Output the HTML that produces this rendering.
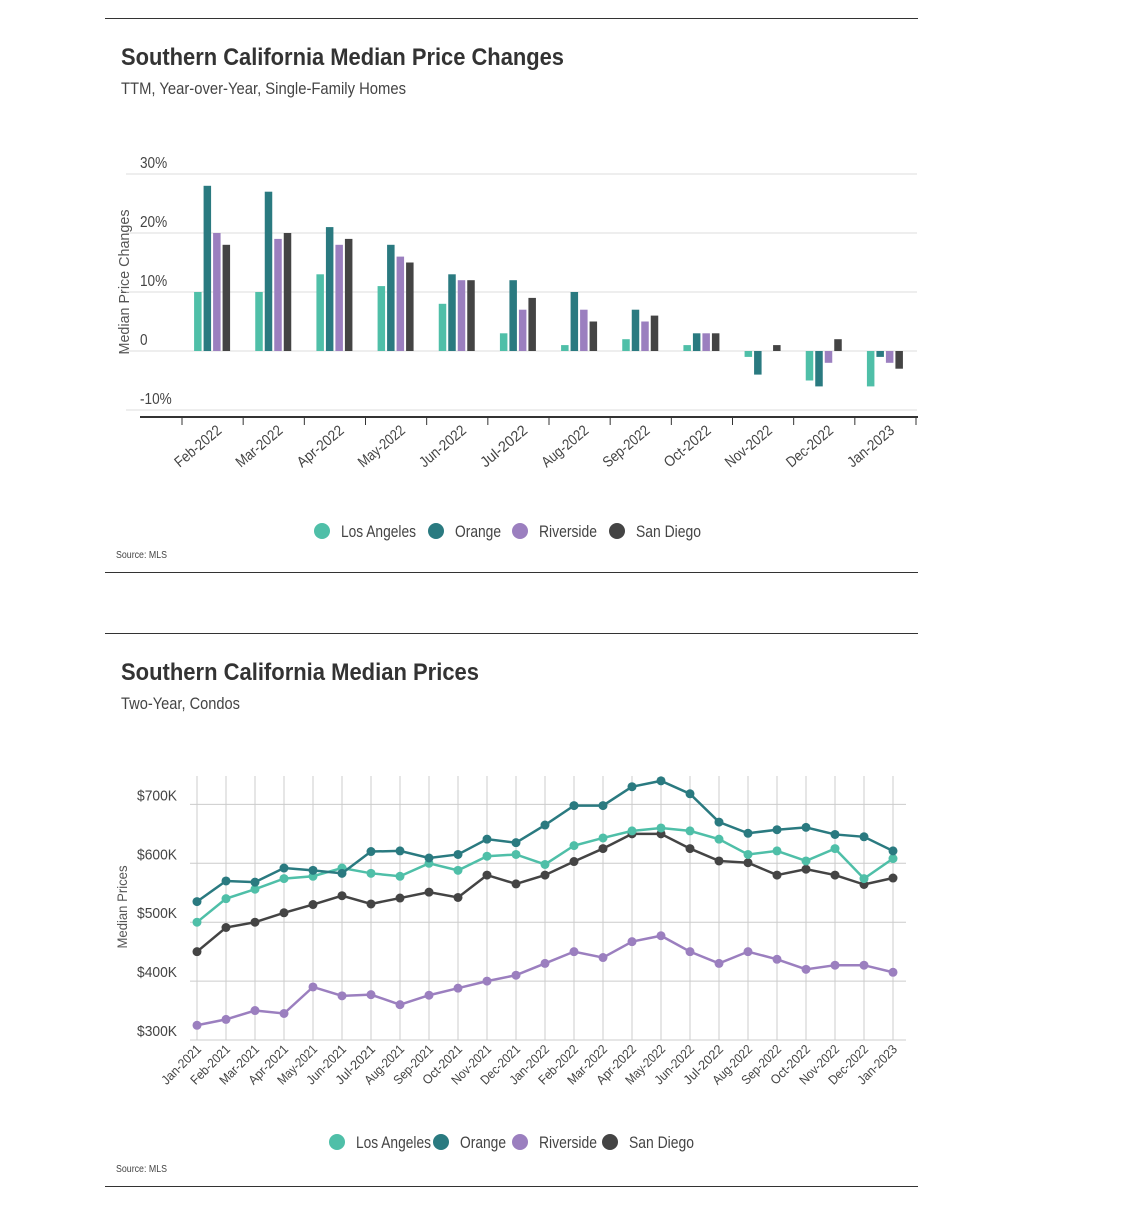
<!DOCTYPE html>
<html><head><meta charset="utf-8">
<style>
body{margin:0;background:#fff;width:1148px;height:1207px;overflow:hidden;font-family:"Liberation Sans",sans-serif;color:#333}
svg{position:absolute;left:0;top:0}
</style></head>
<body>
<svg width="1148" height="1207" id="svg" font-family="Liberation Sans, sans-serif">
<line x1="105" y1="18.5" x2="918" y2="18.5" stroke="#333"/>
<text x="121" y="65" font-size="24" font-weight="bold" fill="#333" textLength="443" lengthAdjust="spacingAndGlyphs">Southern California Median Price Changes</text>
<text x="121" y="94" font-size="17" fill="#444" textLength="285" lengthAdjust="spacingAndGlyphs">TTM, Year-over-Year, Single-Family Homes</text>
<text transform="translate(129,282) rotate(-90)" text-anchor="middle" font-size="15" fill="#555" textLength="145" lengthAdjust="spacingAndGlyphs">Median Price Changes</text>
<text x="116" y="558" font-size="10" fill="#444" textLength="51" lengthAdjust="spacingAndGlyphs">Source: MLS</text>
<line x1="105" y1="572.5" x2="918" y2="572.5" stroke="#333"/>
<line x1="105" y1="633.5" x2="918" y2="633.5" stroke="#333"/>
<text x="121" y="680" font-size="24" font-weight="bold" fill="#333" textLength="358" lengthAdjust="spacingAndGlyphs">Southern California Median Prices</text>
<text x="121" y="709" font-size="17" fill="#444" textLength="119" lengthAdjust="spacingAndGlyphs">Two-Year, Condos</text>
<text transform="translate(127,907) rotate(-90)" text-anchor="middle" font-size="14" fill="#555" textLength="83" lengthAdjust="spacingAndGlyphs">Median Prices</text>
<text x="116" y="1172" font-size="10" fill="#444" textLength="51" lengthAdjust="spacingAndGlyphs">Source: MLS</text>
<line x1="105" y1="1186.5" x2="918" y2="1186.5" stroke="#333"/>
<g id="c1"></g><g id="c2"></g>
</svg>
<script>
const barCats=["Feb-2022","Mar-2022","Apr-2022","May-2022","Jun-2022","Jul-2022","Aug-2022","Sep-2022","Oct-2022","Nov-2022","Dec-2022","Jan-2023"];
const barLA=[10,10,13,11,8,3,1,2,1,-1,-5,-6];
const barOrange=[28,27,21,18,13,12,10,7,3,-4,-6,-1];
const barRiverside=[20,19,18,16,12,7,7,5,3,0,-2,-2];
const barSanDiego=[18,20,19,15,12,9,5,6,3,1,2,-3];
const barTicks=[30,20,10,0,-10];
const barTickLabels=["30%","20%","10%","0","-10%"];
const lineCats=["Jan-2021","Feb-2021","Mar-2021","Apr-2021","May-2021","Jun-2021","Jul-2021","Aug-2021","Sep-2021","Oct-2021","Nov-2021","Dec-2021","Jan-2022","Feb-2022","Mar-2022","Apr-2022","May-2022","Jun-2022","Jul-2022","Aug-2022","Sep-2022","Oct-2022","Nov-2022","Dec-2022","Jan-2023"];
const lineOrange=[535,570,568,592,588,583,620,621,609,615,641,635,665,698,698,730,740,718,670,651,657,661,649,645,621];
const lineLA=[500,540,556,574,578,592,583,578,600,588,612,615,598,630,643,655,660,655,641,615,621,604,625,574,608];
const lineSanDiego=[450,491,500,516,530,545,531,541,551,542,580,565,580,603,625,650,650,625,604,601,580,590,580,564,575];
const lineRiverside=[325,335,350,345,390,375,377,360,376,388,400,410,430,450,440,467,477,450,430,450,437,420,427,427,415];
const lineTicks=[700,600,500,400,300];
const lineTickLabels=["$700K","$600K","$500K","$400K","$300K"];
const seriesNames=["Los Angeles","Orange","Riverside","San Diego"];
const colors=["#4fbfa8","#2a7a80","#9b7fbf","#444444"];
const NS="http://www.w3.org/2000/svg";
function mk(p,tag,at){const e=document.createElementNS(NS,tag);for(const k in at)e.setAttribute(k,at[k]);p.appendChild(e);return e;}
// chart 1
const c1=document.getElementById('c1');
const y1=v=>351-v*5.9;
const x0=182,bw=(916-182)/barCats.length;
barTicks.forEach((t,i)=>{
  const g=mk(c1,'line',{x1:126,x2:917,y1:y1(t),y2:y1(t),stroke:'#ddd'});
  
  
  const tx=mk(c1,'text',{x:140,y:y1(t)-6,'font-size':16,fill:'#444',transform:`translate(${140*0.15},0) scale(0.85,1)`});tx.textContent=barTickLabels[i];
  
  
});
const ax=mk(c1,'line',{x1:140,x2:918,y1:417,y2:417,stroke:'#333','stroke-width':2});


for(let i=0;i<=barCats.length;i++){const t=mk(c1,'line',{x1:x0+i*bw,x2:x0+i*bw,y1:417,y2:425,stroke:'#333'});
  
  }
const bs=[barLA,barOrange,barRiverside,barSanDiego];
barCats.forEach((c,i)=>{
  const cx=x0+(i+0.5)*bw;
  bs.forEach((s,j)=>{
    const v=s[i];if(v===0)return;
    const x=cx-18.5+j*9.5;
    const r=mk(c1,'rect',{x:x,y:Math.min(y1(v),y1(0)),width:7.5,height:Math.abs(y1(v)-y1(0)),fill:colors[j]});
    
    
  });
  const l=mk(c1,'text',{transform:`translate(${cx+10},432) rotate(-40)`,'text-anchor':'end','font-size':15,fill:'#444',textLength:56,lengthAdjust:'spacingAndGlyphs'});l.textContent=c;
  
  
});
const legW=[75,46,58,65];
function legend(p,y,xs,name){
  seriesNames.forEach((n,j)=>{
    const g=mk(p,'g',{});
    
    
    mk(g,'circle',{cx:xs[j],cy:y,r:8,fill:colors[j]});
    const t=mk(g,'text',{x:xs[j]+19,y:y+6,'font-size':17,fill:'#444',textLength:legW[j],lengthAdjust:'spacingAndGlyphs'});t.textContent=n;
  });
}
legend(c1,531,[322,436,520,617],'chart1');
// chart 2
const c2=document.getElementById('c2');
const y2=v=>1040-(v-300)*0.589;
const lx=i=>197+i*29;
lineTicks.forEach((t,i)=>{
  const g=mk(c2,'line',{x1:190,x2:906,y1:y2(t),y2:y2(t),stroke:'#ccc'});
  
  
  const tx=mk(c2,'text',{x:137,y:y2(t)-4,'font-size':15,fill:'#444',textLength:40,lengthAdjust:'spacingAndGlyphs'});tx.textContent=lineTickLabels[i];
  
  
});
lineCats.forEach((c,i)=>{
  const g=mk(c2,'line',{x1:lx(i),x2:lx(i),y1:776,y2:1040,stroke:'#ccc'});
  
  
  const l=mk(c2,'text',{transform:`translate(${lx(i)+5},1050) rotate(-45)`,'text-anchor':'end','font-size':13,fill:'#444',textLength:50,lengthAdjust:'spacingAndGlyphs'});l.textContent=c;
  
  
});
const ls=[lineLA,lineOrange,lineRiverside,lineSanDiego];
[2,3,0,1].forEach(j=>{
  const s=ls[j];
  const p=mk(c2,'polyline',{points:s.map((v,i)=>lx(i)+','+y2(v)).join(' '),fill:'none',stroke:colors[j],'stroke-width':2.5});
  
  
  s.forEach((v,i)=>{const d=mk(c2,'circle',{cx:lx(i),cy:y2(v),r:4.5,fill:colors[j]});
    
    });
});
legend(c2,1142,[337,441,520,610],'chart2');
</script>
</body></html>
